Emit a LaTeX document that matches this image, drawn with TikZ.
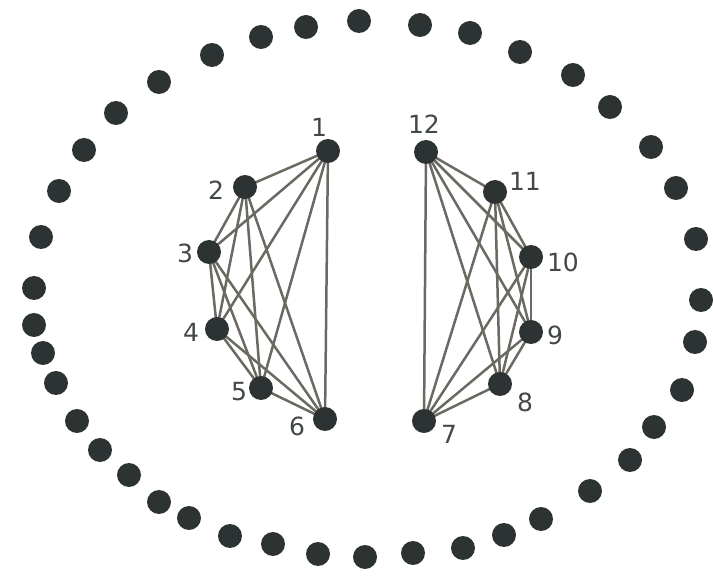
\documentclass[tikz,border=0pt]{standalone}
\usepackage{fontspec}
\setmainfont{DejaVu Sans}
\usetikzlibrary{positioning,backgrounds}
\definecolor{dotgray}{HTML}{2D3333}
\definecolor{edgegray}{HTML}{6A6A62}

\begin{document}
\begin{tikzpicture}[
  x=1pt, y=-1pt,
  dot/.style={circle, fill=dotgray, inner sep=0pt, minimum size=24pt},
  vert/.style={dot, minimum size=24pt},
  edge/.style={draw=edgegray, line width=2.5pt},
  lbl/.style={font=\fontsize{25}{30}\selectfont, text=dotgray!90, inner sep=0pt},
]
\useasboundingbox (0,0) rectangle (713,577);

% ---- outer ring of dots ----
\foreach \px/\py [count=\k] in {359/21, 420/25, 470/33, 520/52, 573/75, 610/107,
    651/147, 676/188, 696/239, 701/300, 695/342, 682/390, 654/427, 630/460,
    590/491, 541/519, 504/535, 463/548, 413/553, 365/557, 318/554, 273/544,
    230/536, 189/518, 159/502, 129/475, 100/450, 77/421, 56/383, 43/353,
    34/325, 34/288, 41/237, 59/191, 84/150, 116/113, 159/82, 212/55,
    261/37, 306/27}
  \node[dot] (o\k) at (\px,\py) {};

% ---- left cluster: vertices 1--6 ----
\node[vert] (v1) at (328,151) {};
\node[vert] (v2) at (245,187) {};
\node[vert] (v3) at (209,252) {};
\node[vert] (v4) at (217,329) {};
\node[vert] (v5) at (261,388) {};
\node[vert] (v6) at (325,419) {};

% ---- right cluster: vertices 7--12 ----
\node[vert] (v7)  at (424,421) {};
\node[vert] (v8)  at (500,384) {};
\node[vert] (v9)  at (531,332) {};
\node[vert] (v10) at (531,257) {};
\node[vert] (v11) at (495,192) {};
\node[vert] (v12) at (426,152) {};

% ---- labels ----
\node[lbl] (l1)  at (319,127) {1};
\node[lbl] (l2)  at (216,190) {2};
\node[lbl] (l3)  at (185,253) {3};
\node[lbl] (l4)  at (191,332) {4};
\node[lbl] (l5)  at (239,392) {5};
\node[lbl] (l6)  at (297,426) {6};
\node[lbl] (l7)  at (449,434) {7};
\node[lbl] (l8)  at (525,402) {8};
\node[lbl] (l9)  at (555,335) {9};
\node[lbl] (l10) at (563,262) {10};
\node[lbl] (l11) at (525,181) {11};
\node[lbl] (l12) at (424,124) {12};

% ---- complete graphs on each cluster ----
\begin{scope}[on background layer]
  \foreach \i in {1,...,5} {
    \pgfmathtruncatemacro\nxt{\i+1}
    \foreach \j in {\nxt,...,6}
      \draw[edge] (v\i.center) -- (v\j.center);
  }
  \foreach \i in {7,...,11} {
    \pgfmathtruncatemacro\nxt{\i+1}
    \foreach \j in {\nxt,...,12}
      \draw[edge] (v\i.center) -- (v\j.center);
  }
\end{scope}
\end{tikzpicture}
\end{document}
